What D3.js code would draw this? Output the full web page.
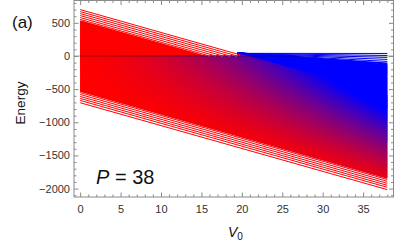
<!DOCTYPE html>
<html>
<head>
<meta charset="utf-8">
<script src="https://cdn.jsdelivr.net/npm/d3@7"></script>
<style>
  body { margin: 0; background: #fff; }
  svg { display: block; }
  text { font-family: 'Liberation Sans', Arial, sans-serif; }
</style>
</head>
<body>
<svg id="chart" width="395" height="243"></svg>
<script>

// energies of the "red" levels at V0 = 0, they all fall with the same slope
var redStart = [700, 670, 640, 610, 580, 552,
  525, 510, 495, 480, 465, 450, 435, 420, 405, 390, 375, 360, 345, 330, 315, 300,
  285, 270, 255, 240, 225, 210, 195, 180, 165, 150, 135, 120, 105, 90, 75, 60, 45,
  30, 15, 0, -15, -30, -45, -60, -75, -90, -105, -120, -135, -150, -165, -180,
  -195, -210, -225, -240, -255, -270, -285, -300, -315, -330, -345, -360, -375,
  -390, -405, -420, -435, -450, -465, -480, -495, -510, -525,
  -552, -580, -610, -640, -670, -705];
var redSlope = -34.5;

// "blue" levels: fan out from where the top red level reaches zero
var fanPivot = [19.5, 40];          // [V0, Energy]
var fanEnd = [38, 8, -22, -52, -82, -112, -135,
  -150, -165, -180, -195, -210, -225, -240, -255, -270, -285, -300, -315, -330,
  -345, -360, -375, -390, -405, -420, -435, -450, -465, -480, -495, -510, -525,
  -540, -555, -570, -585, -600, -615, -630, -645, -660, -675, -690, -705, -720,
  -735, -750, -765, -780];   // energy at V0 = 38

var V0max = 38;
var xTicks = [0, 5, 10, 15, 20, 25, 30, 35];
var yTicks = [500, 0, -500, -1000, -1500, -2000];


var svg = d3.select('#chart'),
    defs = svg.append('defs');

var frameLeft = 74, frameRight = 393.5, frameTop = 0.5, frameBottom = 197;

var x = d3.scaleLinear().domain([-0.76, 38.76]).range([frameLeft, frameRight]);
var y = d3.scaleLinear().domain([-2127, 837]).range([frameBottom, frameTop]);

var colour = d3.interpolateRgb('#ff0000', '#0000ff');
var bandPos = d3.scaleLinear().domain([-720, 720]).range([0, 1]).clamp(true);

// how blue a red level looks at V0 (only below zero)
function blueness(a, v) {
  var f = 1.3 * Math.pow(v / V0max, 1.2) * Math.pow(bandPos(a), 1.3);
  return Math.min(1, f);
}

// lines that sit close to their neighbours get a wider stroke so the band looks solid
function strokeWidths(vals) {
  var pxPerUnit = Math.abs(y(0) - y(1));
  return vals.map(function(v, i) {
    var gap = Infinity;
    if (i > 0) gap = Math.min(gap, Math.abs(v - vals[i - 1]));
    if (i < vals.length - 1) gap = Math.min(gap, Math.abs(v - vals[i + 1]));
    return gap * pxPerUnit >= 1.6 ? 1 : 2;
  });
}

svg.append('clipPath').attr('id', 'frameClip')
  .append('rect')
  .attr('x', frameLeft).attr('y', frameTop)
  .attr('width', frameRight - frameLeft).attr('height', frameBottom - frameTop);

var plot = svg.append('g').attr('clip-path', 'url(#frameClip)');

var line = d3.line()
    .x(function(d) { return x(d[0]); })
    .y(function(d) { return y(d[1]); });

// blue fan first, the red levels go on top
var fanW = strokeWidths(fanEnd);
plot.selectAll('path.fan')
  .data(fanEnd)
  .enter().append('path')
  .attr('class', 'fan')
  .attr('d', function(e) { return line([fanPivot, [V0max, e]]); })
  .style('fill', 'none')
  .style('stroke', '#0000ff')
  .style('stroke-width', function(e, i) { return fanW[i]; });

var steps = d3.range(0, V0max + 0.001, 2);
var redW = strokeWidths(redStart);
var redSegments = [];

redStart.forEach(function(a, i) {
  var cross = a > 0 ? -a / redSlope : -1;
  var stops = steps.map(function(v) {
    return { v: v, f: (v < cross) ? 0 : blueness(a, v) };
  });
  if (cross > 0 && cross < V0max) {
    stops.push({ v: cross, f: 0 });
    stops.push({ v: cross, f: blueness(a, cross) });
    // above zero the level keeps its own width, below it joins the solid band
    redSegments.push({ a: a, i: i, from: 0, to: cross, w: redW[i] });
    redSegments.push({ a: a, i: i, from: cross, to: V0max, w: 2.6 });
  } else {
    redSegments.push({ a: a, i: i, from: 0, to: V0max, w: redW[i] });
  }
  stops.sort(function(p, q) { return p.v - q.v || p.f - q.f; });

  var grad = defs.append('linearGradient')
    .attr('id', 'lv' + i)
    .attr('gradientUnits', 'userSpaceOnUse')
    .attr('x1', x(0)).attr('x2', x(V0max))
    .attr('y1', 0).attr('y2', 0);
  stops.forEach(function(s) {
    grad.append('stop')
      .attr('offset', s.v / V0max)
      .attr('stop-color', colour(s.f));
  });
});

plot.selectAll('path.red')
  .data(redSegments)
  .enter().append('path')
  .attr('class', 'red')
  .attr('d', function(d) {
    return line([[d.from, d.a + redSlope * d.from], [d.to, d.a + redSlope * d.to]]);
  })
  .style('fill', 'none')
  .style('stroke', function(d) { return 'url(#lv' + d.i + ')'; })
  .style('stroke-width', function(d) { return d.w; });

// zero line
plot.append('line')
  .attr('x1', frameLeft).attr('x2', frameRight)
  .attr('y1', y(0)).attr('y2', y(0))
  .style('stroke', '#000')
  .style('stroke-opacity', 0.35)
  .style('stroke-width', 1);


// Frame with ticks on all sides
var tickColour = '#8a8a8a',
    labelColour = '#333';

var xMinor = d3.range(0, 39).filter(function(v) { return v % 5 !== 0; });
var yMinor = d3.range(-2100, 801, 100).filter(function(v) { return v % 500 !== 0; });

function styleAxis(g) {
  g.select('.domain').remove();
  g.selectAll('line').style('stroke', tickColour);
  g.selectAll('text')
    .style('fill', labelColour)
    .style('font-size', '11px')
    .style('font-family', "'Liberation Sans', Arial, sans-serif");
}

var minus = function(v) { return v < 0 ? '\u2212' + Math.abs(v) : '' + v; };

svg.append('g')
  .attr('transform', 'translate(0,' + frameBottom + ')')
  .call(d3.axisBottom(x).tickValues(xTicks).tickSize(-4.5).tickPadding(8))
  .call(styleAxis);
svg.append('g')
  .attr('transform', 'translate(0,' + frameBottom + ')')
  .call(d3.axisBottom(x).tickValues(xMinor).tickSize(-2.5).tickFormat(''))
  .call(styleAxis);
svg.append('g')
  .attr('transform', 'translate(0,' + frameTop + ')')
  .call(d3.axisTop(x).tickValues(xTicks).tickSize(-4.5).tickFormat(''))
  .call(styleAxis);
svg.append('g')
  .attr('transform', 'translate(0,' + frameTop + ')')
  .call(d3.axisTop(x).tickValues(xMinor).tickSize(-2.5).tickFormat(''))
  .call(styleAxis);

svg.append('g')
  .attr('transform', 'translate(' + frameLeft + ',0)')
  .call(d3.axisLeft(y).tickValues(yTicks).tickSize(-4.5).tickPadding(4).tickFormat(minus))
  .call(styleAxis);
svg.append('g')
  .attr('transform', 'translate(' + frameLeft + ',0)')
  .call(d3.axisLeft(y).tickValues(yMinor).tickSize(-2.5).tickFormat(''))
  .call(styleAxis);
svg.append('g')
  .attr('transform', 'translate(' + frameRight + ',0)')
  .call(d3.axisRight(y).tickValues(yTicks).tickSize(-4.5).tickFormat(''))
  .call(styleAxis);
svg.append('g')
  .attr('transform', 'translate(' + frameRight + ',0)')
  .call(d3.axisRight(y).tickValues(yMinor).tickSize(-2.5).tickFormat(''))
  .call(styleAxis);

svg.append('rect')
  .attr('x', frameLeft).attr('y', frameTop)
  .attr('width', frameRight - frameLeft).attr('height', frameBottom - frameTop)
  .style('fill', 'none')
  .style('stroke', tickColour)
  .style('stroke-width', 1);


// Labels
svg.append('text')
  .attr('transform', 'translate(25,103) rotate(-90)')
  .style('text-anchor', 'middle')
  .style('font-size', '13.5px')
  .style('fill', '#111')
  .text('Energy');

var xl = svg.append('text')
  .attr('x', 228).attr('y', 237)
  .style('font-size', '14px')
  .style('fill', '#111');
xl.append('tspan').style('font-style', 'italic').text('V');
xl.append('tspan').attr('dy', 3).style('font-size', '10px').text('0');

svg.append('text')
  .attr('x', 12).attr('y', 28)
  .style('font-size', '17px')
  .style('fill', '#111')
  .text('(a)');

var pl = svg.append('text')
  .attr('x', 96).attr('y', 184)
  .style('font-size', '20px')
  .style('fill', '#111');
pl.append('tspan').style('font-style', 'italic').text('P');
pl.append('tspan').text(' = 38');

</script>
</body>
</html>
